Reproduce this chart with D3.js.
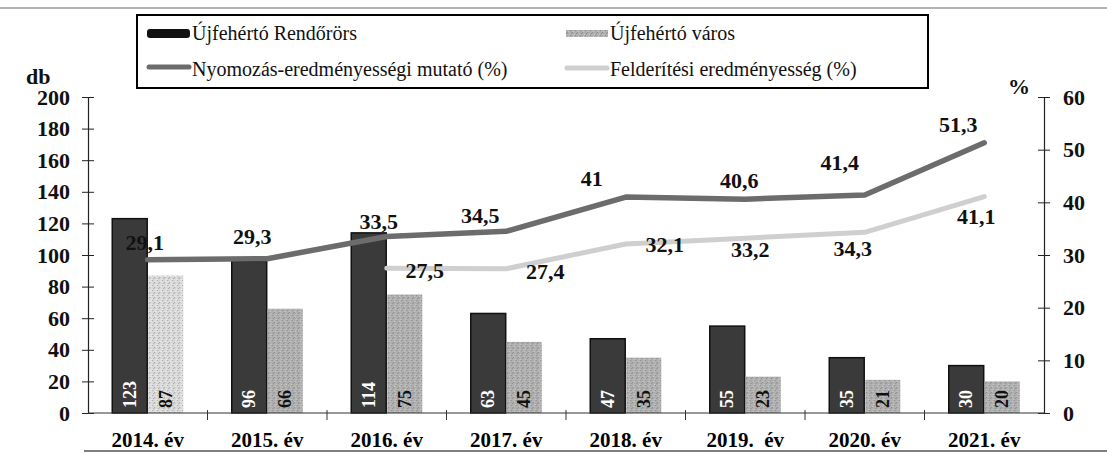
<!DOCTYPE html>
<html>
<head>
<meta charset="utf-8">
<script src="https://cdn.jsdelivr.net/npm/d3@7"></script>
<style>
  body { margin: 0; background: #fff; }
  svg text { font-family: "Liberation Serif", "Times New Roman", serif; }
  .ax text { font-size: 22px; font-weight: bold; fill: #111; }
  .xlab { font-size: 21px; font-weight: bold; white-space: pre; }
  .lbl { font-size: 22px; font-weight: bold; fill: #111; }
  .barlbl { font-size: 18px; font-weight: bold; }
  .leg { font-size: 20px; fill: #111; }
</style>
</head>
<body>
<svg id="chart"></svg>
<script>
// values
var years      = ['2014. év', '2015. év', '2016. év', '2017. év', '2018. év', '2019.  év', '2020. év', '2021. év'];
var rendorors  = [123, 96, 114, 63, 47, 55, 35, 30];
var varos      = [87, 66, 75, 45, 35, 23, 21, 20];
var nyomozas   = [29.1, 29.3, 33.5, 34.5, 41, 40.6, 41.4, 51.3];
var felderites = [null, null, 27.5, 27.4, 32.1, 33.2, 34.3, 41.1];
var leftTicks  = [0, 20, 40, 60, 80, 100, 120, 140, 160, 180, 200];
var rightTicks = [0, 10, 20, 30, 40, 50, 60];
var legendNames = ['Újfehértó Rendőrörs', 'Újfehértó város', 'Nyomozás-eredményességi mutató (%)', 'Felderítési eredményesség (%)'];

// label nudges (layout only), relative to the line point
var nyomNudge = [[-3, -17], [-15, -22], [-8, -15], [-26, -16], [-34, -19], [-6, -19], [-25, -32], [-26, -18]];
var feldNudge = [null, null, [38, 2], [39, 3], [39, 1], [5, 11], [-12, 16], [-8, 20]];

var W = 1107, H = 453;
var plot = { left: 88, right: 1044, top: 97, bottom: 413 };

var svg = d3.select('#chart').attr('width', W).attr('height', H);

// speckled textures like the scan
var defs = svg.append('defs');
function speckle(id, base, dark, light) {
  var p = defs.append('pattern').attr('id', id).attr('patternUnits', 'userSpaceOnUse')
    .attr('width', 5).attr('height', 5);
  p.append('rect').attr('width', 5).attr('height', 5).attr('fill', base);
  [[0, 0], [3, 1], [1, 3], [4, 4], [2, 2]].forEach(function (c, k) {
    p.append('rect').attr('x', c[0]).attr('y', c[1]).attr('width', 1).attr('height', 1)
      .attr('fill', k % 2 ? light : dark);
  });
}
speckle('varosFill', '#b0b0b0', '#8a8a8a', '#cacaca');
speckle('varosLight', '#dadada', '#a4a4a4', '#f0f0f0');

// frame lines of the scanned page
svg.append('line').attr('x1', 0).attr('x2', W).attr('y1', 8).attr('y2', 8)
  .attr('stroke', '#9a9a9a').attr('stroke-width', 1.5);
svg.append('line').attr('x1', 84).attr('x2', W).attr('y1', 451).attr('y2', 451)
  .attr('stroke', '#555').attr('stroke-width', 1.5);

var x = d3.scaleBand().domain(years).range([plot.left, plot.right]);
var xInner = d3.scaleBand().domain(['r', 'v']).range([0, 71]).paddingInner(0.03);
var yL = d3.scaleLinear().domain([0, 200]).range([plot.bottom, plot.top]);
var yR = d3.scaleLinear().domain([0, 60]).range([plot.bottom, plot.top]);

var groupX = function (d) { return x(d) + (x.bandwidth() - 71) / 2; };
var cx = function (d) { return x(d) + x.bandwidth() / 2; };

// bars
var bars = svg.append('g');
years.forEach(function (yr, i) {
  var g = bars.append('g').attr('transform', 'translate(' + groupX(yr) + ',0)');
  g.append('rect')
    .attr('x', xInner('r')).attr('width', xInner.bandwidth())
    .attr('y', yL(rendorors[i])).attr('height', yL(0) - yL(rendorors[i]))
    .attr('fill', '#3a3a3a').attr('stroke', '#111').attr('stroke-width', 1.5);
  g.append('rect')
    .attr('x', xInner('v')).attr('width', xInner.bandwidth())
    .attr('y', yL(varos[i])).attr('height', yL(0) - yL(varos[i]))
    .attr('fill', i === 0 ? 'url(#varosLight)' : 'url(#varosFill)');

  g.append('text').attr('class', 'barlbl')
    .attr('transform', 'translate(' + (xInner('r') + xInner.bandwidth() / 2 + 6) + ',' + (yL(0) - 5) + ') rotate(-90)')
    .attr('fill', '#fff').text(rendorors[i]);
  g.append('text').attr('class', 'barlbl')
    .attr('transform', 'translate(' + (xInner('v') + xInner.bandwidth() / 2 + 6) + ',' + (yL(0) - 5) + ') rotate(-90)')
    .attr('fill', '#111').text(varos[i]);
});

// axes
var axL = svg.append('g').attr('class', 'ax').attr('transform', 'translate(' + plot.left + ',0)')
  .call(d3.axisLeft(yL).tickValues(leftTicks).tickSizeOuter(0).tickSizeInner(6).tickPadding(12));
axL.selectAll('.tick line').attr('x1', 6).attr('stroke', '#222');
axL.select('.domain').attr('stroke', '#222').attr('stroke-width', 1.2);

var axR = svg.append('g').attr('class', 'ax').attr('transform', 'translate(' + plot.right + ',0)')
  .call(d3.axisRight(yR).tickValues(rightTicks).tickSizeOuter(0).tickSizeInner(6).tickPadding(13));
axR.selectAll('.tick line').attr('x1', -6).attr('stroke', '#222');
axR.selectAll('.tick text').attr('text-anchor', 'start');
axR.select('.domain').attr('stroke', '#222').attr('stroke-width', 1.2);

svg.append('text').attr('class', 'lbl').attr('x', 26).attr('y', 84).text('db');
svg.append('text').attr('class', 'lbl').attr('x', 1008).attr('y', 94).text('%');

// category axis
svg.append('line').attr('x1', plot.left).attr('x2', plot.right)
  .attr('y1', plot.bottom).attr('y2', plot.bottom).attr('stroke', '#333').attr('stroke-width', 1.2);
svg.append('g').selectAll('line').data(years.slice(1)).enter().append('line')
  .attr('x1', function (d) { return x(d); }).attr('x2', function (d) { return x(d); })
  .attr('y1', plot.bottom - 3).attr('y2', plot.bottom + 7).attr('stroke', '#333');
svg.append('g').selectAll('text').data(years).enter().append('text')
  .attr('class', 'xlab').attr('text-anchor', 'middle')
  .attr('x', cx).attr('y', 447).text(function (d) { return d; });

// lines
var fmt = function (v) { return String(v).replace('.', ','); };
var pts = function (arr) { return years.map(function (yr, i) { return { yr: yr, v: arr[i], i: i }; }); };
var line = d3.line().defined(function (d) { return d.v != null; })
  .x(function (d) { return cx(d.yr); }).y(function (d) { return yR(d.v); });

svg.append('path').datum(pts(felderites)).attr('d', line)
  .attr('fill', 'none').attr('stroke', '#cfcfcf').attr('stroke-width', 5)
  .attr('stroke-linejoin', 'round').attr('stroke-linecap', 'round');
svg.append('path').datum(pts(nyomozas)).attr('d', line)
  .attr('fill', 'none').attr('stroke', '#6c6c6c').attr('stroke-width', 5.5)
  .attr('stroke-linejoin', 'round').attr('stroke-linecap', 'round');

svg.append('g').selectAll('text').data(pts(nyomozas)).enter().append('text')
  .attr('class', 'lbl').attr('text-anchor', 'middle').attr('dominant-baseline', 'central')
  .attr('x', function (d) { return cx(d.yr) + nyomNudge[d.i][0]; })
  .attr('y', function (d) { return yR(d.v) + nyomNudge[d.i][1]; })
  .text(function (d) { return fmt(d.v); });
svg.append('g').selectAll('text').data(pts(felderites).filter(function (d) { return d.v != null; })).enter().append('text')
  .attr('class', 'lbl').attr('text-anchor', 'middle').attr('dominant-baseline', 'central')
  .attr('x', function (d) { return cx(d.yr) + feldNudge[d.i][0]; })
  .attr('y', function (d) { return yR(d.v) + feldNudge[d.i][1]; })
  .text(function (d) { return fmt(d.v); });

// legend
var leg = svg.append('g');
leg.append('rect').attr('x', 137).attr('y', 15).attr('width', 791).attr('height', 73)
  .attr('fill', '#fff').attr('stroke', '#000').attr('stroke-width', 2);
leg.append('rect').attr('x', 147).attr('y', 29).attr('width', 43).attr('height', 9).attr('rx', 3).attr('fill', '#111');
leg.append('rect').attr('x', 566).attr('y', 30).attr('width', 42).attr('height', 7).attr('fill', 'url(#varosFill)');
leg.append('line').attr('x1', 149).attr('x2', 189).attr('y1', 67).attr('y2', 67)
  .attr('stroke', '#6c6c6c').attr('stroke-width', 5).attr('stroke-linecap', 'round');
leg.append('line').attr('x1', 567).attr('x2', 607).attr('y1', 68).attr('y2', 68)
  .attr('stroke', '#cfcfcf').attr('stroke-width', 5).attr('stroke-linecap', 'round');
var legPos = [[192, 40], [610, 40], [192, 76], [610, 76]];
legendNames.forEach(function (n, i) {
  leg.append('text').attr('class', 'leg').attr('x', legPos[i][0]).attr('y', legPos[i][1]).text(n);
});
</script>
</body>
</html>
